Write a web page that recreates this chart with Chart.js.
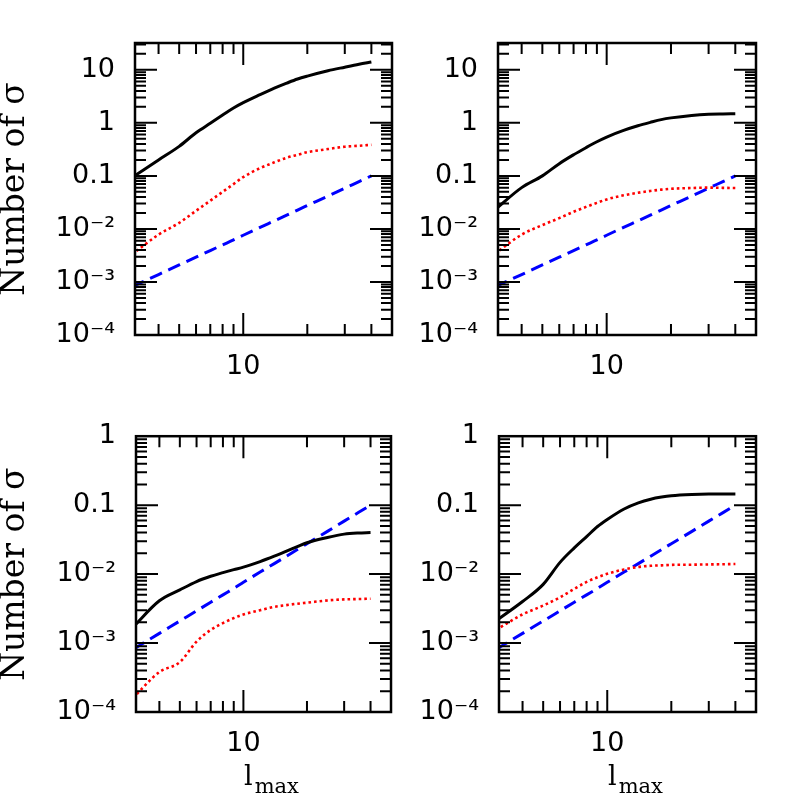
<!DOCTYPE html>
<html lang="en">
<head>
<meta charset="UTF-8">
<title>Number of sigma vs l_max</title>
<script src="https://cdn.jsdelivr.net/npm/chart.js"></script>
<style>
  body { margin: 0; background: #fff; }
  #wrap { position: relative; width: 797px; height: 797px; }
  canvas { position: absolute; }
</style>
</head>
<body>
<div id="wrap">
  <canvas id="tl" width="400" height="400" style="left:0;top:0"></canvas>
  <canvas id="tr" width="397" height="400" style="left:400px;top:0"></canvas>
  <canvas id="bl" width="400" height="397" style="left:0;top:400px"></canvas>
  <canvas id="br" width="397" height="397" style="left:400px;top:400px"></canvas>
</div>
<script>
// l_max sample points (shared by all panels)
const lMax = [3, 4, 5, 6, 7, 8, 9, 10, 12, 14, 16, 18, 20, 25, 30, 35, 40];

// blue dashed curve, identical in all four panels
const dashedAll = [8.1e-4, 1.38e-3, 2.09e-3, 2.93e-3, 3.91e-3, 5.0e-3, 6.2e-3, 7.6e-3, 1.07e-2, 1.42e-2, 1.82e-2, 2.27e-2, 2.76e-2, 4.17e-2, 5.86e-2, 7.8e-2, 0.1];

// top left
const tlSolid  = [0.093, 0.2, 0.36, 0.65, 0.98, 1.4, 1.9, 2.4, 3.4, 4.5, 5.6, 6.7, 7.6, 9.6, 11.2, 12.7, 14];
const tlDotted = [0.0033, 0.0078, 0.013, 0.022, 0.034, 0.05, 0.07, 0.095, 0.14, 0.18, 0.22, 0.25, 0.28, 0.32, 0.355, 0.37, 0.385];
// top right
const trSolid  = [0.023, 0.06, 0.1, 0.17, 0.25, 0.34, 0.44, 0.54, 0.72, 0.88, 1.02, 1.15, 1.24, 1.38, 1.45, 1.47, 1.48];
const trDotted = [0.0034, 0.0078, 0.0118, 0.016, 0.021, 0.026, 0.031, 0.036, 0.043, 0.048, 0.052, 0.055, 0.057, 0.059, 0.06, 0.0595, 0.059];
// bottom left
const blSolid  = [0.0017, 0.0041, 0.0059, 0.0078, 0.0093, 0.0105, 0.0116, 0.0126, 0.0152, 0.0182, 0.0215, 0.025, 0.0285, 0.034, 0.038, 0.0395, 0.04];
const blDotted = [1.6e-4, 3.8e-4, 5.3e-4, 1.05e-3, 1.55e-3, 1.95e-3, 2.3e-3, 2.6e-3, 3.0e-3, 3.35e-3, 3.55e-3, 3.72e-3, 3.85e-3, 4.15e-3, 4.3e-3, 4.35e-3, 4.4e-3];
// bottom right
const brSolid  = [0.0021, 0.004, 0.0071, 0.0148, 0.024, 0.035, 0.049, 0.062, 0.088, 0.108, 0.122, 0.131, 0.137, 0.143, 0.145, 0.145, 0.145];
const brDotted = [1.55e-3, 2.6e-3, 3.5e-3, 4.6e-3, 6.1e-3, 7.7e-3, 9.0e-3, 0.0101, 0.0117, 0.0127, 0.0132, 0.0134, 0.0136, 0.0137, 0.0138, 0.0139, 0.014];

// axis ticks
const yTicksTop = [1e-4, 1e-3, 1e-2, 0.1, 1, 10];
const yLabelsTop = ['10\u207B\u2074', '10\u207B\u00B3', '10\u207B\u00B2', '0.1', '1', '10'];
const yTicksBottom = [1e-4, 1e-3, 1e-2, 0.1, 1];
const yLabelsBottom = ['10\u207B\u2074', '10\u207B\u00B3', '10\u207B\u00B2', '0.1', '1'];
const xTicks = [10];
const xLabels = ['10'];
const yTitle = 'Number of \u03C3';

const FONT = 'DejaVu Sans';
const SERIF = 'DejaVu Serif';

// draws the frame and inward log ticks on all four sides
const frameTicks = {
  id: 'frameTicks',
  afterDraw(chart) {
    const { ctx, chartArea: a, scales: { x, y } } = chart;
    ctx.save();
    ctx.strokeStyle = '#000';
    ctx.lineWidth = 2;
    ctx.beginPath();
    for (let e = -5; e <= 2; e++) {
      for (let k = 1; k <= 9; k++) {
        const v = k * Math.pow(10, e);
        const len = k === 1 ? 22 : 11;
        if (v > y.min * 1.001 && v < y.max * 0.999) {
          const py = y.getPixelForValue(v);
          ctx.moveTo(a.left, py); ctx.lineTo(a.left + len, py);
          ctx.moveTo(a.right, py); ctx.lineTo(a.right - len, py);
        }
        if (v > x.min * 1.001 && v < x.max * 0.999) {
          const px = x.getPixelForValue(v);
          ctx.moveTo(px, a.bottom); ctx.lineTo(px, a.bottom - len);
          ctx.moveTo(px, a.top); ctx.lineTo(px, a.top + len);
        }
      }
    }
    ctx.stroke();
    ctx.lineWidth = 2.5;
    ctx.strokeRect(a.left, a.top, a.right - a.left, a.bottom - a.top);
    ctx.restore();
  }
};

// l_max title with subscript
const xTitle = {
  id: 'xTitle',
  afterDraw(chart, args, opts) {
    if (!opts.show) return;
    const { ctx, chartArea: a } = chart;
    ctx.save();
    ctx.fillStyle = '#000';
    ctx.textBaseline = 'alphabetic';
    ctx.font = '27px "' + SERIF + '"';
    const wl = ctx.measureText('l').width;
    ctx.font = '21px "' + SERIF + '"';
    const wm = ctx.measureText('max').width;
    const cx = (a.left + a.right) / 2 + 8;
    const x0 = cx - (wl + 2 + wm) / 2;
    ctx.font = '27px "' + SERIF + '"';
    ctx.fillText('l', x0, a.bottom + 73);
    ctx.font = '21px "' + SERIF + '"';
    ctx.fillText('max', x0 + wl + 2, a.bottom + 81);
    ctx.restore();
  }
};

function makePanel(id, solid, dotted, cfg) {
  const yTicks = cfg.top ? yTicksTop : yTicksBottom;
  const yLabels = cfg.top ? yLabelsTop : yLabelsBottom;
  const pts = arr => arr.map((v, i) => ({ x: lMax[i], y: v }));
  new Chart(document.getElementById(id), {
    type: 'line',
    data: {
      datasets: [
        { data: pts(solid), borderColor: '#000', borderWidth: 3, pointRadius: 0, cubicInterpolationMode: 'monotone', clip: 0.01 },
        { data: pts(dotted), borderColor: '#ff0000', borderWidth: 2.6, borderDash: [2.6, 3], pointRadius: 0, cubicInterpolationMode: 'monotone', clip: 0.01 },
        { data: pts(dashedAll), borderColor: '#0000ff', borderWidth: 3, borderDash: [13, 7], pointRadius: 0, cubicInterpolationMode: 'monotone', clip: 0.01 }
      ]
    },
    options: {
      responsive: false,
      animation: false,
      events: [],
      layout: { padding: { top: cfg.padTop, right: cfg.padRight, left: 0, bottom: 0 } },
      plugins: { legend: { display: false }, tooltip: { enabled: false }, xTitle: { show: !cfg.top } },
      scales: {
        x: {
          type: 'logarithmic',
          min: 3.1,
          max: 50,
          grid: { display: false, drawTicks: false },
          border: { display: false },
          afterBuildTicks: s => { s.ticks = xTicks.map(v => ({ value: v })); },
          afterFit: s => { s.height = cfg.xHeight; },
          ticks: {
            autoSkip: false, maxRotation: 0, padding: 16, color: '#000',
            font: { family: FONT, size: 27 },
            callback: v => xLabels[xTicks.indexOf(v)]
          }
        },
        y: {
          type: 'logarithmic',
          min: 1e-4,
          max: cfg.top ? 32 : 1,
          grid: { display: false, drawTicks: false },
          border: { display: false },
          afterBuildTicks: s => { s.ticks = yTicks.map(v => ({ value: v })); },
          afterFit: s => { s.width = cfg.yWidth; },
          title: {
            display: cfg.left, text: yTitle, color: '#000',
            font: { family: SERIF, size: 33 }, padding: { top: -4, bottom: 0 }
          },
          ticks: {
            autoSkip: false, padding: 20, color: '#000',
            font: { family: FONT, size: 27 },
            callback: v => yLabels[yTicks.indexOf(v)]
          }
        }
      }
    },
    plugins: [frameTicks, xTitle]
  });
}

makePanel('tl', tlSolid, tlDotted, { top: true, left: true, padTop: 43, padRight: 8, xHeight: 65, yWidth: 135 });
makePanel('tr', trSolid, trDotted, { top: true, left: false, padTop: 43, padRight: 41, xHeight: 65, yWidth: 98 });
makePanel('bl', blSolid, blDotted, { top: false, left: true, padTop: 20, padRight: 9, xHeight: 85, yWidth: 136 });
makePanel('br', brSolid, brDotted, { top: false, left: false, padTop: 20, padRight: 41, xHeight: 85, yWidth: 99 });
</script>
</body>
</html>
